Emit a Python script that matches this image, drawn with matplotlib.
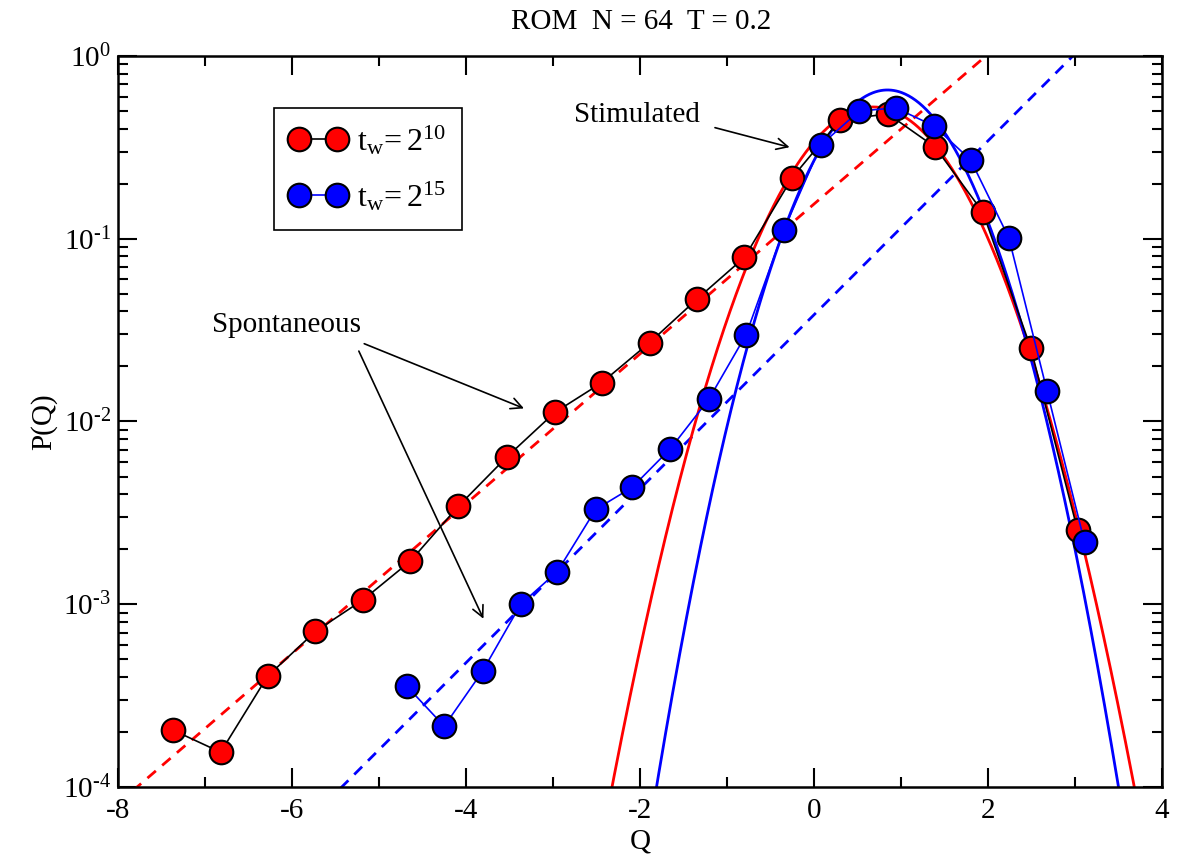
import matplotlib
matplotlib.use('Agg')
import matplotlib.pyplot as plt
from matplotlib.ticker import LogLocator, MultipleLocator, NullFormatter
import numpy as np

plt.rcParams['font.family'] = ['Liberation Serif', 'DejaVu Serif']
plt.rcParams['mathtext.fontset'] = 'custom'
plt.rcParams['mathtext.rm'] = 'Liberation Serif'
plt.rcParams['mathtext.it'] = 'Liberation Serif:italic'
plt.rcParams['axes.unicode_minus'] = False

# t_w = 2^10 data
q_red = [-7.37, -6.82, -6.28, -5.73, -5.18, -4.64, -4.09, -3.53, -2.98, -2.44,
         -1.89, -1.34, -0.80, -0.25, 0.30, 0.85, 1.39, 1.94, 2.49, 3.03]
p_red = [2.05e-4, 1.55e-4, 4.04e-4, 7.1e-4, 1.06e-3, 1.72e-3, 3.43e-3, 6.4e-3,
         1.12e-2, 1.63e-2, 2.7e-2, 4.7e-2, 7.9e-2, 0.216, 0.447, 0.482, 0.318,
         0.14, 0.0254, 2.54e-3]

# t_w = 2^15 data
q_blue = [-4.68, -4.25, -3.81, -3.37, -2.95, -2.51, -2.09, -1.65, -1.21, -0.78,
          -0.35, 0.08, 0.52, 0.94, 1.38, 1.80, 2.24, 2.68, 3.11]
p_blue = [3.56e-4, 2.15e-4, 4.3e-4, 1.0e-3, 1.51e-3, 3.3e-3, 4.36e-3, 7.1e-3,
          1.32e-2, 2.99e-2, 0.111, 0.326, 0.50, 0.52, 0.414, 0.27, 0.101,
          0.0146, 2.18e-3]

# exponential tails: log10 P = -4 + slope * (Q - q0)
exp_red = (-7.78, 0.410)
exp_blue = (-5.428, 0.476)
# gaussians on log10 scale: log10 P = top - curv * (Q - mu)^2
gau_red = (0.68, -0.279, 0.413)
gau_blue = (0.845, -0.186, 0.541)

y_ticks = [1e-4, 1e-3, 1e-2, 1e-1, 1]
y_ticklabels = [r'$\mathregular{10^{\text{-}4}}$', r'$\mathregular{10^{\text{-}3}}$',
                r'$\mathregular{10^{\text{-}2}}$', r'$\mathregular{10^{\text{-}1}}$',
                r'$\mathregular{10^{0}}$']

fig = plt.figure(figsize=(11.94, 8.56), dpi=100)
ax = fig.add_axes([0.0988, 0.0806, 0.8744, 0.854])

qq = np.linspace(-8, 4, 1200)

ax.plot(qq, 10 ** (-4 + exp_red[1] * (qq - exp_red[0])), color='red', lw=2, ls=(0, (4, 3)))
ax.plot(qq, 10 ** (-4 + exp_blue[1] * (qq - exp_blue[0])), color='blue', lw=2, ls=(0, (4, 3)))
ax.plot(qq, 10 ** (gau_red[1] - gau_red[2] * (qq - gau_red[0]) ** 2), color='red', lw=2)
ax.plot(qq, 10 ** (gau_blue[1] - gau_blue[2] * (qq - gau_blue[0]) ** 2), color='blue', lw=2)

ax.plot(q_red, p_red, color='black', lw=1.2, marker='o', ms=17, mfc='red',
        mec='black', mew=1.5, label=r'$\mathregular{t_w\!= 2^{10}}$')
ax.plot(q_blue, p_blue, color='blue', lw=1.2, marker='o', ms=17, mfc='blue',
        mec='black', mew=1.5, label=r'$\mathregular{t_w\!= 2^{15}}$')

ax.set_yscale('log')
ax.set_xlim(-8, 4)
ax.set_ylim(1e-4, 1)

ax.xaxis.set_major_locator(MultipleLocator(2))
ax.xaxis.set_minor_locator(MultipleLocator(1))
ax.yaxis.set_minor_locator(LogLocator(base=10, subs=np.arange(2, 10), numticks=20))
ax.yaxis.set_minor_formatter(NullFormatter())
ax.set_yticks(y_ticks)
ax.set_yticklabels(y_ticklabels)

ax.tick_params(which='both', direction='in', top=True, right=True, width=1.5,
               labelsize=21)
ax.tick_params(axis='x', which='major', pad=8)
ax.tick_params(axis='y', which='major', pad=5)
ax.tick_params(which='major', length=14)
ax.tick_params(which='minor', length=7)
for s in ax.spines.values():
    s.set_linewidth(1.8)

ax.set_xlabel('Q', fontsize=21, labelpad=3)
ax.set_ylabel('P(Q)', fontsize=21, labelpad=4)
fig.text(0.537, 0.974, 'ROM  N = 64  T = 0.2', ha='center', va='center', fontsize=21)

leg = ax.legend(loc='upper left', bbox_to_anchor=(0.149, 0.929), borderaxespad=0,
                numpoints=2, fontsize=23, fancybox=False, framealpha=1,
                edgecolor='black', handlelength=1.8, handletextpad=0.3,
                labelspacing=0.7, borderpad=0.5)
leg.get_frame().set_linewidth(1.2)

arrow = dict(arrowstyle='->', color='black', lw=1.2, mutation_scale=20)
ax.text(-6.92, 0.0339, 'Spontaneous', fontsize=21, ha='left', va='center')
ax.annotate('', xy=(-3.304, 0.01164), xytext=(-5.199, 0.0270), arrowprops=arrow)
ax.annotate('', xy=(-3.786, 8.07e-4), xytext=(-5.245, 0.02506), arrowprops=arrow)
ax.text(-2.753, 0.476, 'Stimulated', fontsize=21, ha='left', va='center')
ax.annotate('', xy=(-0.25, 0.314), xytext=(-1.169, 0.409), arrowprops=arrow)

fig.savefig('out.png', dpi=100)
